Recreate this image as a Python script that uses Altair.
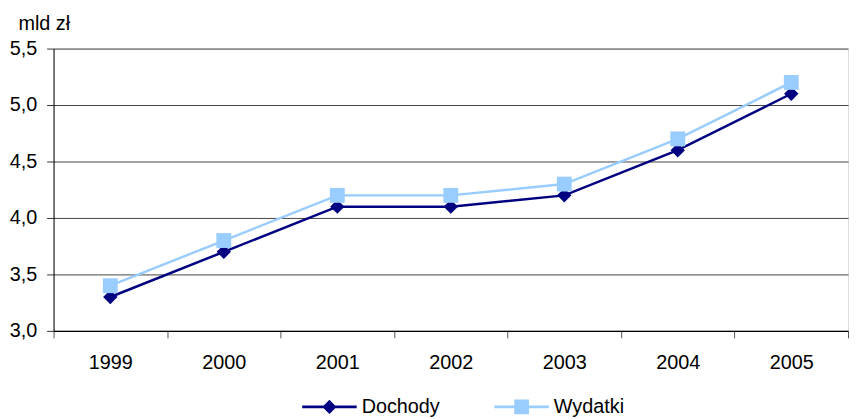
import altair as alt
import pandas as pd

years = ["1999", "2000", "2001", "2002", "2003", "2004", "2005"]
dochody = [3.3, 3.7, 4.1, 4.1, 4.2, 4.6, 5.1]
wydatki = [3.4, 3.8, 4.2, 4.2, 4.3, 4.7, 5.2]
series = ["Dochody", "Wydatki"]
colors = ["#000080", "#99CCFF"]
y_ticks = [3.0, 3.5, 4.0, 4.5, 5.0, 5.5]

df = pd.DataFrame({
    "year": years * 2,
    "value": dochody + wydatki,
    "series": [series[0]] * len(years) + [series[1]] * len(years),
})

FONT = "Liberation Sans"
FS = 20

x_enc = alt.X(
    "year:N",
    bandPosition=0.5,
    sort=years,
    scale=alt.Scale(type="band", paddingInner=0, paddingOuter=0),
    axis=alt.Axis(
        title=None, tickBand="extent", labelAngle=0, grid=False,
        labelFont=FONT, labelFontSize=FS, labelColor="black",
        tickSize=7, tickColor="#555", labelPadding=15,
        domainColor="black", domainWidth=1.5,
    ),
)
y_enc = alt.Y(
    "value:Q",
    scale=alt.Scale(domain=[3.0, 5.5], nice=False, zero=False),
    axis=alt.Axis(
        values=y_ticks,
        labelExpr="replace(format(datum.value, '.1f'), '.', ',')",
        title="mld zł", titleAngle=0, titleAlign="left", titleBaseline="alphabetic",
        titleX=-36, titleY=-19, titleFont=FONT, titleFontSize=FS,
        titleFontWeight="normal", titleColor="black",
        labelFont=FONT, labelFontSize=FS, labelColor="black",
        tickSize=7, tickColor="#333", labelPadding=10,
        domainColor="black", domainWidth=1,
        grid=True, gridColor="#444", gridWidth=1,
    ),
)

base = alt.Chart(df)

line_d = base.transform_filter(f"datum.series == '{series[0]}'").mark_line(
    color=colors[0], strokeWidth=2.5).encode(x=x_enc, y=y_enc)
point_d = base.transform_filter(f"datum.series == '{series[0]}'").mark_point(
    shape="diamond", filled=True, size=210, color=colors[0], opacity=1).encode(x=x_enc, y=y_enc)
line_w = base.transform_filter(f"datum.series == '{series[1]}'").mark_line(
    color=colors[1], strokeWidth=2.5).encode(x=x_enc, y=y_enc)
point_w = base.transform_filter(f"datum.series == '{series[1]}'").mark_point(
    shape="square", filled=True, size=225, color=colors[1], opacity=1).encode(x=x_enc, y=y_enc)

path_d = "M-1,-0.05H1V0.05H-1Z M0,-0.26L0.26,0L0,0.26L-0.26,0Z"
path_w = "M-1,-0.05H1V0.05H-1Z M-0.27,-0.27H0.27V0.27H-0.27Z"

legend = alt.Legend(
    title=None, orient="none", legendX=251, legendY=334, direction="horizontal",
    symbolSize=3025, symbolStrokeWidth=0, labelFont=FONT, labelFontSize=FS,
    labelColor="black", labelOffset=5, columnPadding=55, padding=0,
)
legend_layer = base.transform_filter("false").mark_point(filled=True, opacity=1).encode(
    x=x_enc, y=y_enc,
    color=alt.Color("series:N", scale=alt.Scale(domain=series, range=colors), legend=legend),
    shape=alt.Shape("series:N", scale=alt.Scale(domain=series, range=[path_d, path_w]), legend=legend),
)

chart = alt.layer(line_d, point_d, line_w, point_w, legend_layer).properties(
    width=802, height=285,
    autosize=alt.AutoSizeParams(type="none"),
    padding={"left": 46, "top": 39, "right": 1, "bottom": 87},
).configure_view(stroke=None).configure(background="white")

chart.save("out.html", embed_options={"renderer": "svg", "actions": False})
